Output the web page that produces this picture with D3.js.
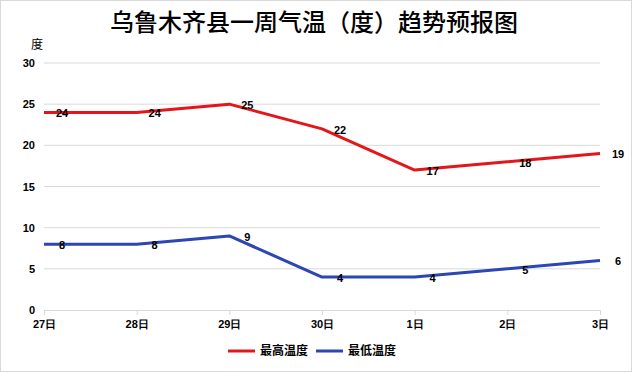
<!DOCTYPE html>
<html>
<head>
<meta charset="utf-8">
<script src="https://cdn.jsdelivr.net/npm/d3@7"></script>
<style>
  body { margin: 0; background: #fff; }
  svg { display: block; font-family: "Noto Sans CJK SC", "Microsoft YaHei", sans-serif; }
</style>
</head>
<body>
<div id="chart"></div>
<script>
// --- données ---
const days = ["27日", "28日", "29日", "30日", "1日", "2日", "3日"];
const highTemps = [24, 24, 25, 22, 17, 18, 19];
const lowTemps = [8, 8, 9, 4, 4, 5, 6];
const yTicks = [0, 5, 10, 15, 20, 25, 30];
const seriesNames = ["最高温度", "最低温度"];

const width = 632, height = 372;
const margin = {top: 63, right: 32, bottom: 62, left: 44};
const colors = ["#e3161b", "#2c46b4"];

const svg = d3.select("#chart").append("svg")
    .attr("width", width)
    .attr("height", height);

// cadre
svg.append("rect")
    .attr("x", 0.5).attr("y", 0.5)
    .attr("width", width - 1).attr("height", height - 1)
    .attr("fill", "#fff")
    .attr("stroke", "#d9d9d9");

const x = d3.scalePoint()
    .domain(days)
    .range([margin.left, width - margin.right]);

const y = d3.scaleLinear()
    .domain([0, 30])
    .range([height - margin.bottom, margin.top]);

// titre
svg.append("text")
    .attr("x", 314).attr("y", 31)
    .attr("text-anchor", "middle")
    .attr("font-size", 24)
    .attr("font-weight", 500)
    .attr("fill", "#000")
    .text("乌鲁木齐县一周气温（度）趋势预报图");

svg.append("text")
    .attr("x", 37).attr("y", 49)
    .attr("text-anchor", "middle")
    .attr("font-size", 12)
    .attr("fill", "#000")
    .text("度");

// grille
svg.append("g")
    .selectAll("line")
    .data(yTicks.filter(d => d > 0))
    .join("line")
    .attr("x1", margin.left).attr("x2", width - margin.right)
    .attr("y1", d => y(d)).attr("y2", d => y(d))
    .attr("stroke", "#d9d9d9");

// axe Y
const yAxis = svg.append("g")
    .attr("transform", `translate(${margin.left},0)`)
    .call(d3.axisLeft(y).tickValues(yTicks).tickSize(0).tickPadding(9));
yAxis.select(".domain").remove();
yAxis.selectAll("text")
    .attr("font-size", 11).attr("font-weight", "bold")
    .attr("font-family", "Liberation Sans, Arial, sans-serif")
    .attr("fill", "#000");

// axe X
const xAxis = svg.append("g")
    .attr("transform", `translate(0,${y(0)})`)
    .call(d3.axisBottom(x).tickSize(5).tickPadding(5));
xAxis.select(".domain").attr("stroke", "#d9d9d9");
xAxis.selectAll(".tick line").attr("stroke", "#d9d9d9");
xAxis.selectAll("text")
    .attr("font-size", 11).attr("font-weight", "bold")
    .attr("fill", "#000");

// séries
const series = [highTemps, lowTemps];
const line = d3.line()
    .x((d, i) => x(days[i]))
    .y(d => y(d));

series.forEach((values, s) => {
    svg.append("path")
        .datum(values)
        .attr("fill", "none")
        .attr("stroke", colors[s])
        .attr("stroke-width", 3)
        .attr("stroke-linejoin", "round")
        .attr("d", line);

    svg.append("g")
        .selectAll("text")
        .data(values)
        .join("text")
        .attr("x", (d, i) => x(days[i]) + 18)
        .attr("y", d => y(d) + 1)
        .attr("dy", "0.35em")
        .attr("text-anchor", "middle")
        .attr("font-size", 11)
        .attr("font-weight", "bold")
        .attr("font-family", "Liberation Sans, Arial, sans-serif")
        .attr("fill", "#000")
        .text(d => d);
});

// légende
const legend = svg.append("g");
const legendX = [228, 316];
seriesNames.forEach((name, i) => {
    legend.append("line")
        .attr("x1", legendX[i]).attr("x2", legendX[i] + 27)
        .attr("y1", 351).attr("y2", 351)
        .attr("stroke", colors[i])
        .attr("stroke-width", 3);
    legend.append("text")
        .attr("x", legendX[i] + 32).attr("y", 351)
        .attr("dy", "0.35em")
        .attr("font-size", 12)
        .attr("font-weight", "bold")
        .attr("fill", "#000")
        .text(name);
});
</script>
</body>
</html>
